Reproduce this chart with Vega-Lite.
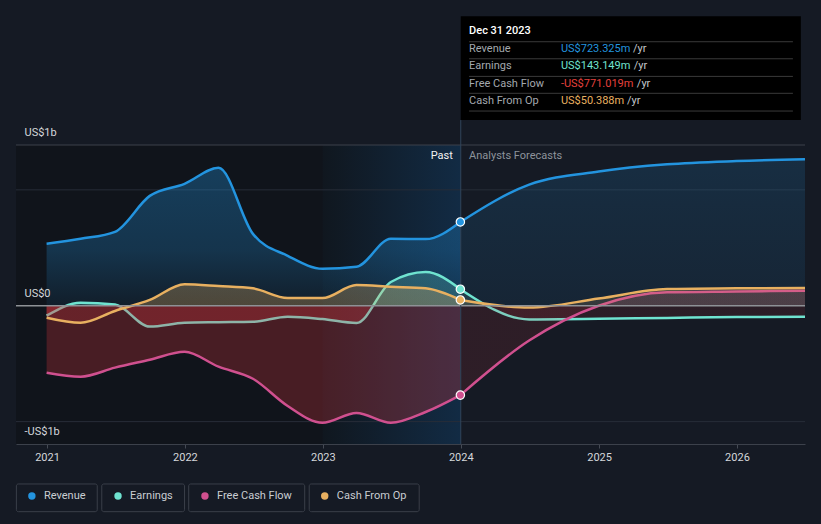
{
 "$schema": "https://vega.github.io/schema/vega-lite/v6.json",
 "width": 789,
 "height": 299,
 "autosize": {"type": "none"},
 "padding": {"left": 16, "top": 145, "right": 16, "bottom": 80},
 "background": "#151a24",
 "config": {"view": {"stroke": null}, "font": "Roboto", "text": {"font": "Roboto"}},
 "datasets": {
  "d": [
   {"date": "2020-12-31", "series": "Revenue", "phase": "p", "value": 0.534},
   {"date": "2021-03-31", "series": "Revenue", "phase": "p", "value": 0.578},
   {"date": "2021-06-30", "series": "Revenue", "phase": "p", "value": 0.638},
   {"date": "2021-09-30", "series": "Revenue", "phase": "p", "value": 0.948},
   {"date": "2021-12-31", "series": "Revenue", "phase": "p", "value": 1.052},
   {"date": "2022-03-31", "series": "Revenue", "phase": "p", "value": 1.19},
   {"date": "2022-06-30", "series": "Revenue", "phase": "p", "value": 0.62},
   {"date": "2022-09-30", "series": "Revenue", "phase": "p", "value": 0.431},
   {"date": "2022-12-31", "series": "Revenue", "phase": "p", "value": 0.319},
   {"date": "2023-03-31", "series": "Revenue", "phase": "p", "value": 0.336},
   {"date": "2023-06-30", "series": "Revenue", "phase": "p", "value": 0.578},
   {"date": "2023-09-30", "series": "Revenue", "phase": "p", "value": 0.575},
   {"date": "2023-12-31", "series": "Revenue", "phase": "p", "value": 0.723},
   {"date": "2020-12-31", "series": "Earnings", "phase": "p", "value": -0.086},
   {"date": "2021-03-31", "series": "Earnings", "phase": "p", "value": 0.026},
   {"date": "2021-06-30", "series": "Earnings", "phase": "p", "value": 0.01},
   {"date": "2021-09-30", "series": "Earnings", "phase": "p", "value": -0.18},
   {"date": "2021-12-31", "series": "Earnings", "phase": "p", "value": -0.147},
   {"date": "2022-03-31", "series": "Earnings", "phase": "p", "value": -0.142},
   {"date": "2022-06-30", "series": "Earnings", "phase": "p", "value": -0.138},
   {"date": "2022-09-30", "series": "Earnings", "phase": "p", "value": -0.095},
   {"date": "2022-12-31", "series": "Earnings", "phase": "p", "value": -0.115},
   {"date": "2023-03-31", "series": "Earnings", "phase": "p", "value": -0.149},
   {"date": "2023-06-30", "series": "Earnings", "phase": "p", "value": 0.205},
   {"date": "2023-09-30", "series": "Earnings", "phase": "p", "value": 0.291},
   {"date": "2023-12-31", "series": "Earnings", "phase": "p", "value": 0.143},
   {"date": "2020-12-31", "series": "Free Cash Flow", "phase": "p", "value": -0.578},
   {"date": "2021-03-31", "series": "Free Cash Flow", "phase": "p", "value": -0.612},
   {"date": "2021-06-30", "series": "Free Cash Flow", "phase": "p", "value": -0.534},
   {"date": "2021-09-30", "series": "Free Cash Flow", "phase": "p", "value": -0.466},
   {"date": "2021-12-31", "series": "Free Cash Flow", "phase": "p", "value": -0.397},
   {"date": "2022-03-31", "series": "Free Cash Flow", "phase": "p", "value": -0.526},
   {"date": "2022-06-30", "series": "Free Cash Flow", "phase": "p", "value": -0.63},
   {"date": "2022-09-30", "series": "Free Cash Flow", "phase": "p", "value": -0.865},
   {"date": "2022-12-31", "series": "Free Cash Flow", "phase": "p", "value": -1.01},
   {"date": "2023-03-31", "series": "Free Cash Flow", "phase": "p", "value": -0.926},
   {"date": "2023-06-30", "series": "Free Cash Flow", "phase": "p", "value": -1.01},
   {"date": "2023-09-30", "series": "Free Cash Flow", "phase": "p", "value": -0.917},
   {"date": "2023-12-31", "series": "Free Cash Flow", "phase": "p", "value": -0.771},
   {"date": "2020-12-31", "series": "Cash From Op", "phase": "p", "value": -0.103},
   {"date": "2021-03-31", "series": "Cash From Op", "phase": "p", "value": -0.147},
   {"date": "2021-06-30", "series": "Cash From Op", "phase": "p", "value": -0.045},
   {"date": "2021-09-30", "series": "Cash From Op", "phase": "p", "value": 0.05},
   {"date": "2021-12-31", "series": "Cash From Op", "phase": "p", "value": 0.185},
   {"date": "2022-03-31", "series": "Cash From Op", "phase": "p", "value": 0.17},
   {"date": "2022-06-30", "series": "Cash From Op", "phase": "p", "value": 0.15},
   {"date": "2022-09-30", "series": "Cash From Op", "phase": "p", "value": 0.066},
   {"date": "2022-12-31", "series": "Cash From Op", "phase": "p", "value": 0.066},
   {"date": "2023-03-31", "series": "Cash From Op", "phase": "p", "value": 0.179},
   {"date": "2023-06-30", "series": "Cash From Op", "phase": "p", "value": 0.164},
   {"date": "2023-09-30", "series": "Cash From Op", "phase": "p", "value": 0.15},
   {"date": "2023-12-31", "series": "Cash From Op", "phase": "p", "value": 0.05},
   {"date": "2023-12-31", "series": "Revenue", "phase": "f", "value": 0.723},
   {"date": "2024-06-30", "series": "Revenue", "phase": "f", "value": 1.045},
   {"date": "2024-12-31", "series": "Revenue", "phase": "f", "value": 1.158},
   {"date": "2025-06-30", "series": "Revenue", "phase": "f", "value": 1.22},
   {"date": "2025-12-31", "series": "Revenue", "phase": "f", "value": 1.248},
   {"date": "2026-06-30", "series": "Revenue", "phase": "f", "value": 1.263},
   {"date": "2023-12-31", "series": "Earnings", "phase": "f", "value": 0.143},
   {"date": "2024-06-30", "series": "Earnings", "phase": "f", "value": -0.118},
   {"date": "2024-12-31", "series": "Earnings", "phase": "f", "value": -0.113},
   {"date": "2025-06-30", "series": "Earnings", "phase": "f", "value": -0.105},
   {"date": "2025-12-31", "series": "Earnings", "phase": "f", "value": -0.098},
   {"date": "2026-06-30", "series": "Earnings", "phase": "f", "value": -0.095},
   {"date": "2023-12-31", "series": "Free Cash Flow", "phase": "f", "value": -0.771},
   {"date": "2024-06-30", "series": "Free Cash Flow", "phase": "f", "value": -0.3},
   {"date": "2024-12-31", "series": "Free Cash Flow", "phase": "f", "value": 0.0},
   {"date": "2025-06-30", "series": "Free Cash Flow", "phase": "f", "value": 0.116},
   {"date": "2025-12-31", "series": "Free Cash Flow", "phase": "f", "value": 0.123},
   {"date": "2026-06-30", "series": "Free Cash Flow", "phase": "f", "value": 0.13},
   {"date": "2023-12-31", "series": "Cash From Op", "phase": "f", "value": 0.05},
   {"date": "2024-06-30", "series": "Cash From Op", "phase": "f", "value": -0.016},
   {"date": "2024-12-31", "series": "Cash From Op", "phase": "f", "value": 0.062},
   {"date": "2025-06-30", "series": "Cash From Op", "phase": "f", "value": 0.144},
   {"date": "2025-12-31", "series": "Cash From Op", "phase": "f", "value": 0.15},
   {"date": "2026-06-30", "series": "Cash From Op", "phase": "f", "value": 0.154}
  ]
 },
 "layer": [
  {
   "data": {"values": [{}]},
   "mark": {"type": "rect", "color": "#10141b"},
   "encoding": {
    "x": {"datum": {"year": 2020, "month": 10, "date": 11, "utc": true}, "type": "temporal",
      "scale": {"type": "utc", "domain": [{"year": 2020, "month": 10, "date": 11, "utc": true}, {"year": 2026, "month": 6, "date": 30, "utc": true}]},
      "axis": {"title": null, "values": [{"year": 2021, "month": 1, "date": 1, "utc": true}, {"year": 2022, "month": 1, "date": 1, "utc": true}, {"year": 2023, "month": 1, "date": 1, "utc": true}, {"year": 2024, "month": 1, "date": 1, "utc": true}, {"year": 2025, "month": 1, "date": 1, "utc": true}, {"year": 2026, "month": 1, "date": 1, "utc": true}],
        "format": "%Y", "labelColor": "#d4d7db", "labelFontSize": 11, "labelFont": "Roboto", "tickColor": "#454a54", "tickSize": 4, "domainColor": "#3c414b", "grid": false, "labelPadding": 3, "labelFlush": false, "zindex": 1}},
    "x2": {"datum": {"year": 2023, "month": 1, "date": 1, "utc": true}},
    "y": {"datum": 1.387, "type": "quantitative",
      "scale": {"domain": [-1.193, 1.387], "nice": false, "zero": false},
      "axis": {"title": null, "values": [1.387, 0, -1.193], "labelExpr": "datum.value > 0.5 ? 'US$1b' : (datum.value < -0.5 ? '-US$1b' : 'US$0')",
        "grid": false, "domain": false, "ticks": false, "tickSize": 0, "labelAlign": "left", "labelBaseline": "middle", "labelPadding": -8, "labelOffset": -12.5,
        "labelColor": "#d4d7db", "labelFontSize": 11, "labelFont": "Roboto", "labelFlush": false, "labelBound": false, "labelOverlap": false, "zindex": 1}},
    "y2": {"datum": -1.193}
   }
  },
  {
   "data": {"values": [{}]},
   "mark": {"type": "rect", "fill": {"gradient": "linear", "x1": 0, "y1": 0, "x2": 1, "y2": 0, "stops": [{"offset": 0, "color": "#10171f"}, {"offset": 1, "color": "#122b44"}]}},
   "encoding": {
    "x": {"datum": {"year": 2023, "month": 1, "date": 1, "utc": true}, "type": "temporal"},
    "x2": {"datum": {"year": 2024, "month": 1, "date": 1, "utc": true}},
    "y": {"datum": 1.387, "type": "quantitative"},
    "y2": {"datum": -1.193}
   }
  },
  {
   "data": {"values": [{"g": 1}, {"g": -1}]},
   "mark": {"type": "rule", "color": "#272d38", "strokeWidth": 1},
   "encoding": {"y": {"field": "g", "type": "quantitative"}}
  },
  {
   "data": {"values": [{}]},
   "mark": {"type": "rule", "color": "#3c414b", "strokeWidth": 1},
   "encoding": {"y": {"datum": 1.387, "type": "quantitative"}}
  },
  {
   "data": {"name": "d"},
   "transform": [{"filter": "datum.series == 'Revenue' && datum.phase == 'p'"}],
   "mark": {"type": "area", "interpolate": "monotone", "clip": true, "fill": {"gradient": "linear", "x1": 0, "y1": 0, "x2": 0, "y2": 1, "stops": [{"offset": 0, "color": "rgba(35,148,223,0.33)"}, {"offset": 0.6, "color": "rgba(35,148,223,0.25)"}, {"offset": 1, "color": "rgba(35,148,223,0.08)"}]}},
   "encoding": {"x": {"field": "date", "type": "temporal"}, "y": {"field": "value", "type": "quantitative"}, "y2": {"datum": 0}}
  },
  {
   "data": {"name": "d"},
   "transform": [{"filter": "datum.series == 'Revenue' && datum.phase == 'f'"}],
   "mark": {"type": "area", "interpolate": "monotone", "clip": true, "fill": {"gradient": "linear", "x1": 0, "y1": 0, "x2": 0, "y2": 1, "stops": [{"offset": 0, "color": "rgba(35,148,223,0.16)"}, {"offset": 1, "color": "rgba(35,148,223,0.09)"}]}},
   "encoding": {"x": {"field": "date", "type": "temporal"}, "y": {"field": "value", "type": "quantitative"}, "y2": {"datum": 0}}
  },
  {
   "data": {"name": "d"},
   "transform": [{"filter": "datum.series == 'Revenue'"}],
   "mark": {"type": "line", "interpolate": "monotone", "strokeWidth": 2.5, "color": "#2394df", "clip": true},
   "encoding": {"x": {"field": "date", "type": "temporal"}, "y": {"field": "value", "type": "quantitative"}, "detail": {"field": "phase"}}
  },
  {
   "data": {"name": "d"},
   "transform": [{"filter": "datum.series == 'Earnings' && datum.phase == 'p'"}],
   "mark": {"type": "area", "interpolate": "monotone", "clip": true, "fill": {"gradient": "linear", "x1": 0, "y1": 0, "x2": 0, "y2": 1, "stops": [{"offset": 0, "color": "rgba(111,227,208,0.22)"}, {"offset": 0.618, "color": "rgba(111,227,208,0.22)"}, {"offset": 0.618, "color": "rgba(224,57,62,0.27)"}, {"offset": 1, "color": "rgba(224,57,62,0.27)"}]}},
   "encoding": {"x": {"field": "date", "type": "temporal"}, "y": {"field": "value", "type": "quantitative"}, "y2": {"datum": 0}}
  },
  {
   "data": {"name": "d"},
   "transform": [{"filter": "datum.series == 'Earnings' && datum.phase == 'f'"}],
   "mark": {"type": "area", "interpolate": "monotone", "clip": true, "fill": {"gradient": "linear", "x1": 0, "y1": 0, "x2": 0, "y2": 1, "stops": [{"offset": 0, "color": "rgba(111,227,208,0.13)"}, {"offset": 0.548, "color": "rgba(111,227,208,0.13)"}, {"offset": 0.548, "color": "rgba(224,57,62,0.11)"}, {"offset": 1, "color": "rgba(224,57,62,0.11)"}]}},
   "encoding": {"x": {"field": "date", "type": "temporal"}, "y": {"field": "value", "type": "quantitative"}, "y2": {"datum": 0}}
  },
  {
   "data": {"name": "d"},
   "transform": [{"filter": "datum.series == 'Earnings'"}],
   "mark": {"type": "line", "interpolate": "monotone", "strokeWidth": 2.5, "color": "#6fe3d0", "clip": true},
   "encoding": {"x": {"field": "date", "type": "temporal"}, "y": {"field": "value", "type": "quantitative"}, "detail": {"field": "phase"}}
  },
  {
   "data": {"name": "d"},
   "transform": [{"filter": "datum.series == 'Free Cash Flow' && datum.phase == 'p'"}],
   "mark": {"type": "area", "interpolate": "monotone", "clip": true, "fill": "#e0393e", "fillOpacity": 0.27},
   "encoding": {"x": {"field": "date", "type": "temporal"}, "y": {"field": "value", "type": "quantitative"}, "y2": {"datum": 0}}
  },
  {
   "data": {"name": "d"},
   "transform": [{"filter": "datum.series == 'Free Cash Flow' && datum.phase == 'f'"}],
   "mark": {"type": "area", "interpolate": "monotone", "clip": true, "fill": {"gradient": "linear", "x1": 0, "y1": 0, "x2": 0, "y2": 1, "stops": [{"offset": 0, "color": "rgba(208,80,143,0.15)"}, {"offset": 0.144, "color": "rgba(208,80,143,0.15)"}, {"offset": 0.144, "color": "rgba(224,57,62,0.12)"}, {"offset": 1, "color": "rgba(224,57,62,0.12)"}]}},
   "encoding": {"x": {"field": "date", "type": "temporal"}, "y": {"field": "value", "type": "quantitative"}, "y2": {"datum": 0}}
  },
  {
   "data": {"name": "d"},
   "transform": [{"filter": "datum.series == 'Free Cash Flow'"}],
   "mark": {"type": "line", "interpolate": "monotone", "strokeWidth": 2.5, "color": "#d0508f", "clip": true},
   "encoding": {"x": {"field": "date", "type": "temporal"}, "y": {"field": "value", "type": "quantitative"}, "detail": {"field": "phase"}}
  },
  {
   "data": {"name": "d"},
   "transform": [{"filter": "datum.series == 'Cash From Op' && datum.phase == 'p'"}],
   "mark": {"type": "area", "interpolate": "monotone", "clip": true, "fill": {"gradient": "linear", "x1": 0, "y1": 0, "x2": 0, "y2": 1, "stops": [{"offset": 0, "color": "rgba(232,176,96,0.28)"}, {"offset": 0.557, "color": "rgba(232,176,96,0.28)"}, {"offset": 0.557, "color": "rgba(224,57,62,0.2)"}, {"offset": 1, "color": "rgba(224,57,62,0.2)"}]}},
   "encoding": {"x": {"field": "date", "type": "temporal"}, "y": {"field": "value", "type": "quantitative"}, "y2": {"datum": 0}}
  },
  {
   "data": {"name": "d"},
   "transform": [{"filter": "datum.series == 'Cash From Op' && datum.phase == 'f'"}],
   "mark": {"type": "area", "interpolate": "monotone", "clip": true, "fill": {"gradient": "linear", "x1": 0, "y1": 0, "x2": 0, "y2": 1, "stops": [{"offset": 0, "color": "rgba(232,176,96,0.14)"}, {"offset": 0.906, "color": "rgba(232,176,96,0.14)"}, {"offset": 0.906, "color": "rgba(224,57,62,0.1)"}, {"offset": 1, "color": "rgba(224,57,62,0.1)"}]}},
   "encoding": {"x": {"field": "date", "type": "temporal"}, "y": {"field": "value", "type": "quantitative"}, "y2": {"datum": 0}}
  },
  {
   "data": {"name": "d"},
   "transform": [{"filter": "datum.series == 'Cash From Op'"}],
   "mark": {"type": "line", "interpolate": "monotone", "strokeWidth": 2.5, "color": "#e8b060", "clip": true},
   "encoding": {"x": {"field": "date", "type": "temporal"}, "y": {"field": "value", "type": "quantitative"}, "detail": {"field": "phase"}}
  },
  {
   "data": {"values": [{}]},
   "mark": {"type": "rule", "color": "#8e9196", "strokeWidth": 1.5},
   "encoding": {"y": {"datum": 0, "type": "quantitative"}}
  },
  {
   "data": {"values": [{}]},
   "mark": {"type": "rule", "color": "#30445a", "strokeWidth": 1},
   "encoding": {"x": {"datum": {"year": 2024, "month": 1, "date": 1, "utc": true}, "type": "temporal"}, "y": {"datum": 1.602, "type": "quantitative"}, "y2": {"datum": -1.193}}
  },
  {
   "data": {"name": "d"},
   "transform": [{"filter": "datum.phase == 'p' && utcyear(datum.date) == 2023 && utcmonth(datum.date) == 11"}],
   "mark": {"type": "circle", "size": 70, "stroke": "#ffffff", "strokeWidth": 1.2, "opacity": 1},
   "encoding": {"x": {"field": "date", "type": "temporal"}, "y": {"field": "value", "type": "quantitative"},
     "fill": {"field": "series", "type": "nominal", "scale": {"domain": ["Revenue", "Earnings", "Free Cash Flow", "Cash From Op"], "range": ["#2394df", "#6fe3d0", "#d0508f", "#e8b060"]}, "legend": null}}
  },
  {
   "data": {"values": [{}]},
   "mark": {"type": "text", "text": "Past", "align": "right", "baseline": "middle", "fontSize": 11, "color": "#f2f2f2"},
   "encoding": {"x": {"datum": {"year": 2023, "month": 12, "date": 11, "utc": true}, "type": "temporal"}, "y": {"datum": 1.292, "type": "quantitative"}}
  },
  {
   "data": {"values": [{}]},
   "mark": {"type": "text", "text": "Analysts Forecasts", "align": "left", "baseline": "middle", "fontSize": 11, "color": "#8d939b"},
   "encoding": {"x": {"datum": {"year": 2024, "month": 1, "date": 23, "utc": true}, "type": "temporal"}, "y": {"datum": 1.292, "type": "quantitative"}}
  },
  {
   "data": {"values": [{}]},
   "mark": {"type": "rect", "fill": "#000000"},
   "encoding": {"x": {"datum": {"year": 2024, "month": 1, "date": 1, "utc": true}, "type": "temporal"}, "x2": {"datum": {"year": 2026, "month": 6, "date": 19, "utc": true}}, "y": {"datum": 2.499, "type": "quantitative"}, "y2": {"datum": 1.602}}
  },
  {
   "data": {"values": [{}]},
   "mark": {"type": "text", "text": "Dec 31 2023", "align": "left", "baseline": "middle", "fontSize": 11, "fontWeight": 500, "color": "#ffffff"},
   "encoding": {"x": {"datum": {"year": 2024, "month": 1, "date": 23, "utc": true}, "type": "temporal"}, "y": {"datum": 2.37, "type": "quantitative"}}
  },
  {"data": {"values": [{}]}, "mark": {"type": "rule", "color": "#3a3a3a", "strokeWidth": 1},
   "encoding": {"x": {"datum": {"year": 2024, "month": 1, "date": 23, "utc": true}, "type": "temporal"}, "x2": {"datum": {"year": 2026, "month": 5, "date": 29, "utc": true}}, "y": {"datum": 2.278, "type": "quantitative"}}},
  {"data": {"values": [{}]}, "mark": {"type": "rule", "color": "#3a3a3a", "strokeWidth": 1},
   "encoding": {"x": {"datum": {"year": 2024, "month": 1, "date": 23, "utc": true}, "type": "temporal"}, "x2": {"datum": {"year": 2026, "month": 5, "date": 29, "utc": true}}, "y": {"datum": 2.131, "type": "quantitative"}}},
  {"data": {"values": [{}]}, "mark": {"type": "rule", "color": "#3a3a3a", "strokeWidth": 1},
   "encoding": {"x": {"datum": {"year": 2024, "month": 1, "date": 23, "utc": true}, "type": "temporal"}, "x2": {"datum": {"year": 2026, "month": 5, "date": 29, "utc": true}}, "y": {"datum": 1.979, "type": "quantitative"}}},
  {"data": {"values": [{}]}, "mark": {"type": "rule", "color": "#3a3a3a", "strokeWidth": 1},
   "encoding": {"x": {"datum": {"year": 2024, "month": 1, "date": 23, "utc": true}, "type": "temporal"}, "x2": {"datum": {"year": 2026, "month": 5, "date": 29, "utc": true}}, "y": {"datum": 1.833, "type": "quantitative"}}},
  {"data": {"values": [{}]}, "mark": {"type": "rule", "color": "#3a3a3a", "strokeWidth": 1},
   "encoding": {"x": {"datum": {"year": 2024, "month": 1, "date": 23, "utc": true}, "type": "temporal"}, "x2": {"datum": {"year": 2026, "month": 5, "date": 29, "utc": true}}, "y": {"datum": 1.68, "type": "quantitative"}}},
  {"data": {"values": [{}]}, "mark": {"type": "text", "text": "Revenue", "align": "left", "baseline": "middle", "fontSize": 11, "color": "#a3a8ae"},
   "encoding": {"x": {"datum": {"year": 2024, "month": 1, "date": 23, "utc": true}, "type": "temporal"}, "y": {"datum": 2.215, "type": "quantitative"}}},
  {"data": {"values": [{}]}, "mark": {"type": "text", "text": "Earnings", "align": "left", "baseline": "middle", "fontSize": 11, "color": "#a3a8ae"},
   "encoding": {"x": {"datum": {"year": 2024, "month": 1, "date": 23, "utc": true}, "type": "temporal"}, "y": {"datum": 2.069, "type": "quantitative"}}},
  {"data": {"values": [{}]}, "mark": {"type": "text", "text": "Free Cash Flow", "align": "left", "baseline": "middle", "fontSize": 11, "color": "#a3a8ae"},
   "encoding": {"x": {"datum": {"year": 2024, "month": 1, "date": 23, "utc": true}, "type": "temporal"}, "y": {"datum": 1.915, "type": "quantitative"}}},
  {"data": {"values": [{}]}, "mark": {"type": "text", "text": "Cash From Op", "align": "left", "baseline": "middle", "fontSize": 11, "color": "#a3a8ae"},
   "encoding": {"x": {"datum": {"year": 2024, "month": 1, "date": 23, "utc": true}, "type": "temporal"}, "y": {"datum": 1.769, "type": "quantitative"}}},
  {"data": {"values": [{}]}, "mark": {"type": "text", "text": "US$723.325m", "align": "left", "baseline": "middle", "fontSize": 11, "color": "#2394df"},
   "encoding": {"x": {"datum": {"year": 2024, "month": 9, "date": 22, "utc": true}, "type": "temporal"}, "y": {"datum": 2.215, "type": "quantitative"}}},
  {"data": {"values": [{}]}, "mark": {"type": "text", "text": "US$143.149m", "align": "left", "baseline": "middle", "fontSize": 11, "color": "#6fe3d0"},
   "encoding": {"x": {"datum": {"year": 2024, "month": 9, "date": 22, "utc": true}, "type": "temporal"}, "y": {"datum": 2.069, "type": "quantitative"}}},
  {"data": {"values": [{}]}, "mark": {"type": "text", "text": "-US$771.019m", "align": "left", "baseline": "middle", "fontSize": 11, "color": "#e5403d"},
   "encoding": {"x": {"datum": {"year": 2024, "month": 9, "date": 22, "utc": true}, "type": "temporal"}, "y": {"datum": 1.915, "type": "quantitative"}}},
  {"data": {"values": [{}]}, "mark": {"type": "text", "text": "US$50.388m", "align": "left", "baseline": "middle", "fontSize": 11, "color": "#e8b060"},
   "encoding": {"x": {"datum": {"year": 2024, "month": 9, "date": 22, "utc": true}, "type": "temporal"}, "y": {"datum": 1.769, "type": "quantitative"}}},
  {"data": {"values": [{}]}, "mark": {"type": "text", "text": "/yr", "align": "left", "baseline": "middle", "fontSize": 11, "color": "#c4c7cb"},
   "encoding": {"x": {"datum": {"year": 2025, "month": 4, "date": 1, "utc": true}, "type": "temporal"}, "y": {"datum": 2.215, "type": "quantitative"}}},
  {"data": {"values": [{}]}, "mark": {"type": "text", "text": "/yr", "align": "left", "baseline": "middle", "fontSize": 11, "color": "#c4c7cb"},
   "encoding": {"x": {"datum": {"year": 2025, "month": 4, "date": 3, "utc": true}, "type": "temporal"}, "y": {"datum": 2.069, "type": "quantitative"}}},
  {"data": {"values": [{}]}, "mark": {"type": "text", "text": "/yr", "align": "left", "baseline": "middle", "fontSize": 11, "color": "#c4c7cb"},
   "encoding": {"x": {"datum": {"year": 2025, "month": 4, "date": 11, "utc": true}, "type": "temporal"}, "y": {"datum": 1.915, "type": "quantitative"}}},
  {"data": {"values": [{}]}, "mark": {"type": "text", "text": "/yr", "align": "left", "baseline": "middle", "fontSize": 11, "color": "#c4c7cb"},
   "encoding": {"x": {"datum": {"year": 2025, "month": 3, "date": 16, "utc": true}, "type": "temporal"}, "y": {"datum": 1.769, "type": "quantitative"}}},
  {"data": {"values": [{}]}, "mark": {"type": "rect", "fill": "#151a24", "stroke": "#3a3f49", "strokeWidth": 1, "cornerRadius": 2},
   "encoding": {"x": {"datum": {"year": 2020, "month": 10, "date": 12, "utc": true}, "type": "temporal"}, "x2": {"datum": {"year": 2021, "month": 5, "date": 14, "utc": true}}, "y": {"datum": -1.538, "type": "quantitative"}, "y2": {"datum": -1.777}}},
  {"data": {"values": [{}]}, "mark": {"type": "rect", "fill": "#151a24", "stroke": "#3a3f49", "strokeWidth": 1, "cornerRadius": 2},
   "encoding": {"x": {"datum": {"year": 2021, "month": 5, "date": 26, "utc": true}, "type": "temporal"}, "x2": {"datum": {"year": 2021, "month": 12, "date": 31, "utc": true}}, "y": {"datum": -1.538, "type": "quantitative"}, "y2": {"datum": -1.777}}},
  {"data": {"values": [{}]}, "mark": {"type": "rect", "fill": "#151a24", "stroke": "#3a3f49", "strokeWidth": 1, "cornerRadius": 2},
   "encoding": {"x": {"datum": {"year": 2022, "month": 1, "date": 11, "utc": true}, "type": "temporal"}, "x2": {"datum": {"year": 2022, "month": 11, "date": 14, "utc": true}}, "y": {"datum": -1.538, "type": "quantitative"}, "y2": {"datum": -1.777}}},
  {"data": {"values": [{}]}, "mark": {"type": "rect", "fill": "#151a24", "stroke": "#3a3f49", "strokeWidth": 1, "cornerRadius": 2},
   "encoding": {"x": {"datum": {"year": 2022, "month": 11, "date": 26, "utc": true}, "type": "temporal"}, "x2": {"datum": {"year": 2023, "month": 9, "date": 13, "utc": true}}, "y": {"datum": -1.538, "type": "quantitative"}, "y2": {"datum": -1.777}}},
  {"data": {"values": [{}]}, "mark": {"type": "circle", "size": 55, "color": "#2394df", "opacity": 1},
   "encoding": {"x": {"datum": {"year": 2020, "month": 11, "date": 22, "utc": true}, "type": "temporal"}, "y": {"datum": -1.642, "type": "quantitative"}}},
  {"data": {"values": [{}]}, "mark": {"type": "circle", "size": 55, "color": "#6fe3d0", "opacity": 1},
   "encoding": {"x": {"datum": {"year": 2021, "month": 7, "date": 8, "utc": true}, "type": "temporal"}, "y": {"datum": -1.642, "type": "quantitative"}}},
  {"data": {"values": [{}]}, "mark": {"type": "circle", "size": 55, "color": "#d0508f", "opacity": 1},
   "encoding": {"x": {"datum": {"year": 2022, "month": 2, "date": 23, "utc": true}, "type": "temporal"}, "y": {"datum": -1.642, "type": "quantitative"}}},
  {"data": {"values": [{}]}, "mark": {"type": "circle", "size": 55, "color": "#e8b060", "opacity": 1},
   "encoding": {"x": {"datum": {"year": 2023, "month": 1, "date": 6, "utc": true}, "type": "temporal"}, "y": {"datum": -1.642, "type": "quantitative"}}},
  {"data": {"values": [{}]}, "mark": {"type": "text", "text": "Revenue", "align": "left", "baseline": "middle", "fontSize": 11, "color": "#c9cdd2"},
   "encoding": {"x": {"datum": {"year": 2020, "month": 12, "date": 24, "utc": true}, "type": "temporal"}, "y": {"datum": -1.642, "type": "quantitative"}}},
  {"data": {"values": [{}]}, "mark": {"type": "text", "text": "Earnings", "align": "left", "baseline": "middle", "fontSize": 11, "color": "#c9cdd2"},
   "encoding": {"x": {"datum": {"year": 2021, "month": 8, "date": 9, "utc": true}, "type": "temporal"}, "y": {"datum": -1.642, "type": "quantitative"}}},
  {"data": {"values": [{}]}, "mark": {"type": "text", "text": "Free Cash Flow", "align": "left", "baseline": "middle", "fontSize": 11, "color": "#c9cdd2"},
   "encoding": {"x": {"datum": {"year": 2022, "month": 3, "date": 27, "utc": true}, "type": "temporal"}, "y": {"datum": -1.642, "type": "quantitative"}}},
  {"data": {"values": [{}]}, "mark": {"type": "text", "text": "Cash From Op", "align": "left", "baseline": "middle", "fontSize": 11, "color": "#c9cdd2"},
   "encoding": {"x": {"datum": {"year": 2023, "month": 2, "date": 7, "utc": true}, "type": "temporal"}, "y": {"datum": -1.642, "type": "quantitative"}}}
 ]
}
